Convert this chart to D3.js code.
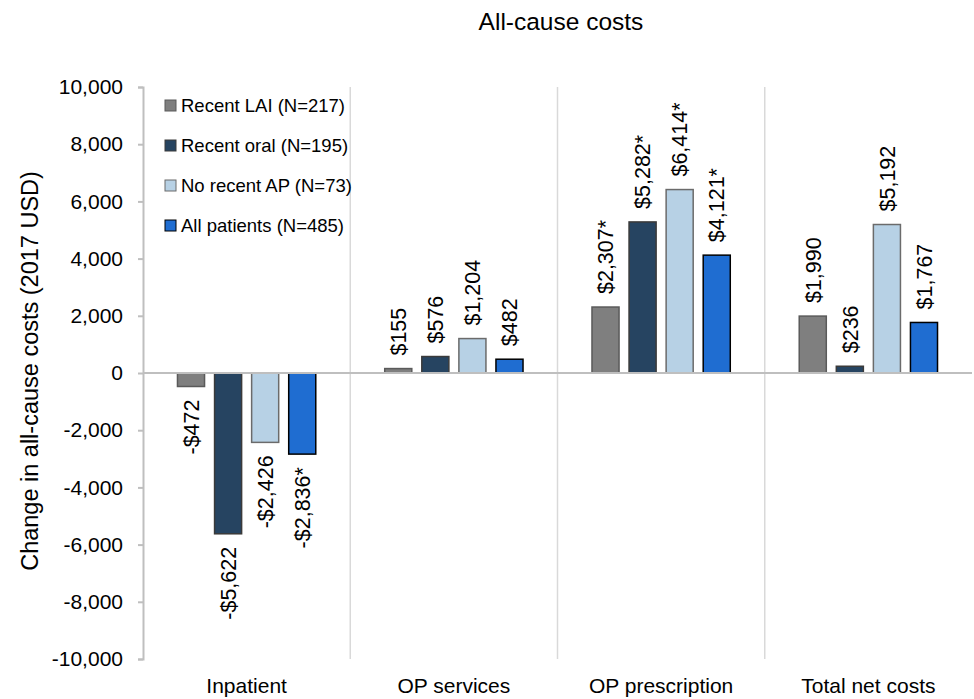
<!DOCTYPE html>
<html>
<head>
<meta charset="utf-8">
<script src="https://cdn.jsdelivr.net/npm/d3@7"></script>
<style>
  body { margin: 0; background: #fff; }
  text { font-family: "Liberation Sans", Arial, sans-serif; fill: #000; }
</style>
</head>
<body>
<div id="chart"></div>
<script>
// data
const categories = ["Inpatient", "OP services", "OP prescription", "Total net costs"];
const seriesNames = ["Recent LAI (N=217)", "Recent oral (N=195)", "No recent AP (N=73)", "All patients (N=485)"];
const recentLAI = [-472, 155, 2307, 1990];
const recentOral = [-5622, 576, 5282, 236];
const noRecentAP = [-2426, 1204, 6414, 5192];
const allPatients = [-2836, 482, 4121, 1767];
const significant = [
  [false, false, true, false],
  [false, false, true, false],
  [false, false, true, false],
  [true, false, true, false]
];
const yTicks = [-10000, -8000, -6000, -4000, -2000, 0, 2000, 4000, 6000, 8000, 10000];

const colors = ["#7f7f7f", "#264461", "#b7d1e5", "#1f6dd1"];
const strokes = ["#5a5a5a", "#3a3a3a", "#6b6b6b", "#000000"];

const width = 974, height = 699;
const margin = {top: 87, right: 2, bottom: 40, left: 143};
const innerW = width - margin.left - margin.right;
const innerH = height - margin.top - margin.bottom;

const svg = d3.select("#chart").append("svg")
  .attr("width", width).attr("height", height);

const g = svg.append("g").attr("transform", `translate(${margin.left},${margin.top})`);

const x = d3.scaleBand().domain(categories).range([0, innerW]).padding(0);
const xs = d3.scaleBand().domain(d3.range(4)).range([0, x.bandwidth()])
  .paddingInner(0.27).paddingOuter(0.93);
const y = d3.scaleLinear().domain([-10000, 10000]).range([innerH, 0]);

const series = [recentLAI, recentOral, noRecentAP, allPatients];
const rows = [];
series.forEach((vals, s) => vals.forEach((v, c) => rows.push({s, c, v, star: significant[s][c]})));

const fmt = d3.format(",");
const tickFmt = d => fmt(d).replace("\u2212", "-");

// separators
g.selectAll(".sep").data(categories.slice(1)).join("line")
  .attr("x1", d => x(d)).attr("x2", d => x(d))
  .attr("y1", 0).attr("y2", innerH)
  .attr("stroke", "#d9d9d9").attr("stroke-width", 1.5);

// y axis
const yAxis = g.append("g").call(d3.axisLeft(y).tickValues(yTicks).tickSize(5).tickPadding(15)
  .tickFormat(tickFmt));
yAxis.select(".domain").attr("stroke", "#bfbfbf").attr("stroke-width", 2);
yAxis.selectAll(".tick line").attr("stroke", "#bfbfbf").attr("stroke-width", 2);
yAxis.selectAll(".tick text").style("font-size", "21px").style("font-family", "Liberation Sans, Arial, sans-serif");

// bars
g.selectAll("rect.bar").data(rows).join("rect")
  .attr("class", "bar")
  .attr("x", d => x(categories[d.c]) + xs(d.s))
  .attr("width", xs.bandwidth())
  .attr("y", d => y(Math.max(0, d.v)))
  .attr("height", d => Math.abs(y(d.v) - y(0)))
  .attr("fill", d => colors[d.s])
  .attr("stroke", d => strokes[d.s])
  .attr("stroke-width", 1.5);

// zero line
g.append("line").attr("x1", 0).attr("x2", innerW).attr("y1", y(0)).attr("y2", y(0))
  .attr("stroke", "#bfbfbf").attr("stroke-width", 2);

// value labels
g.selectAll("text.val").data(rows).join("text")
  .attr("class", "val")
  .attr("transform", d => {
    const cx = x(categories[d.c]) + xs(d.s) + xs.bandwidth() / 2;
    const cy = d.v >= 0 ? y(d.v) - 13 : y(d.v) + 13;
    return `translate(${cx},${cy}) rotate(-90)`;
  })
  .attr("text-anchor", d => d.v >= 0 ? "start" : "end")
  .attr("dy", "0.36em")
  .style("font-size", "21.5px")
  .text(d => (d.v < 0 ? "-$" : "$") + fmt(Math.abs(d.v)) + (d.star ? "*" : ""));

// category labels
g.selectAll("text.cat").data(categories).join("text")
  .attr("class", "cat")
  .attr("x", d => x(d) + x.bandwidth() / 2)
  .attr("y", innerH + 34)
  .attr("text-anchor", "middle")
  .style("font-size", "21px")
  .text(d => d);

// legend
const legend = g.append("g").attr("transform", "translate(22,18.5)");
seriesNames.forEach((name, i) => {
  const row = legend.append("g").attr("transform", `translate(0,${i * 40})`);
  row.append("rect").attr("x", 0).attr("y", -5.5).attr("width", 11).attr("height", 11)
    .attr("fill", colors[i]).attr("stroke", strokes[i]).attr("stroke-width", 1);
  row.append("text").attr("x", 16).attr("y", 0).attr("dy", "0.35em")
    .style("font-size", "18.5px").text(name);
});

// title
svg.append("text").attr("x", 561).attr("y", 30).attr("text-anchor", "middle")
  .style("font-size", "24.5px").text("All-cause costs");

// y axis title
svg.append("text")
  .attr("transform", `translate(38,${margin.top + innerH / 2 - 2}) rotate(-90)`)
  .attr("text-anchor", "middle")
  .style("font-size", "23.5px")
  .text("Change in all-cause costs (2017 USD)");
</script>
</body>
</html>
